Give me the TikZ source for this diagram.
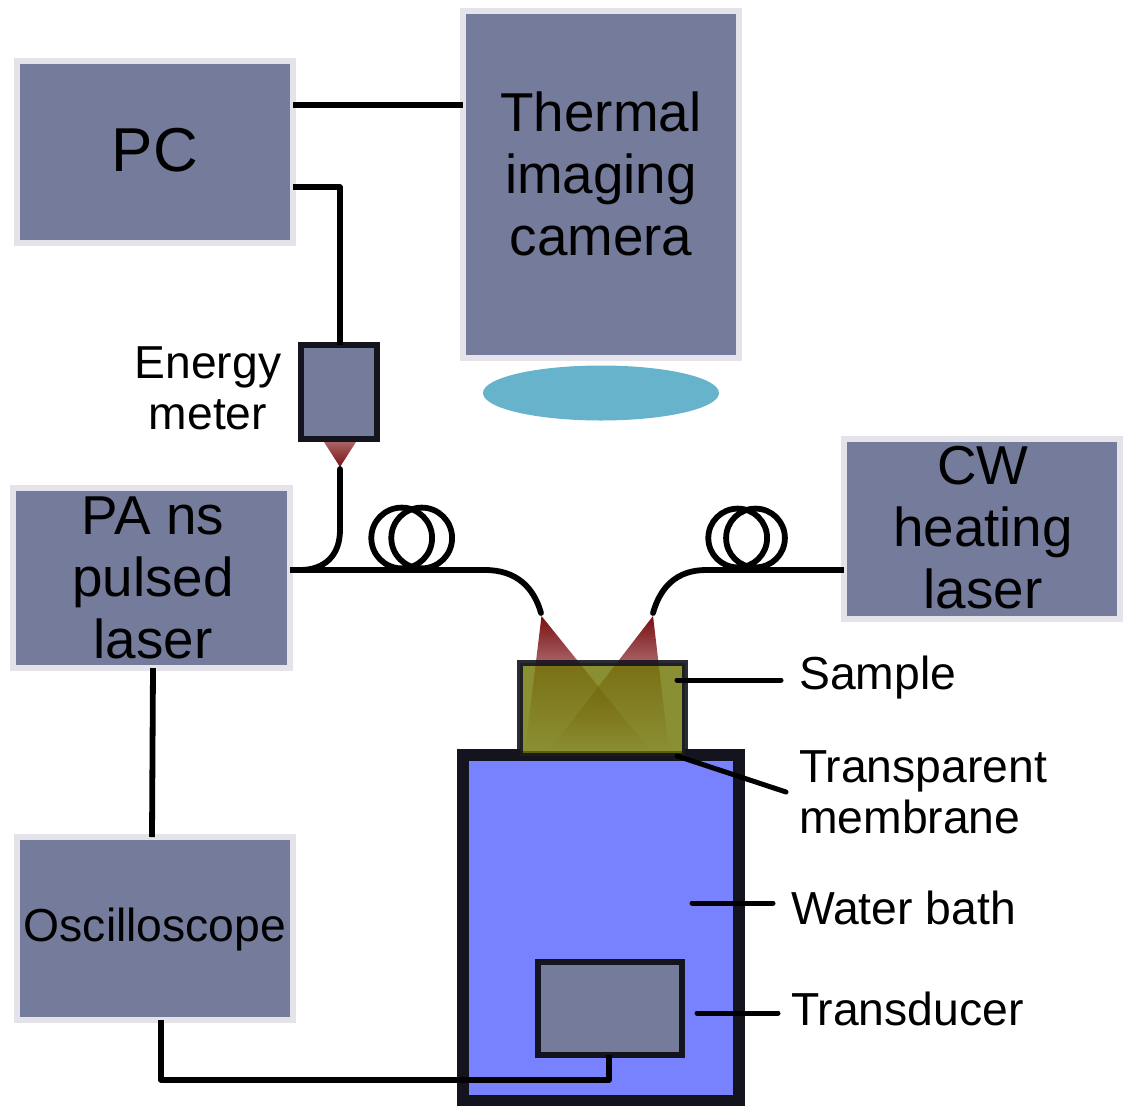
\documentclass[tikz,border=0pt]{standalone}
\usepackage{fontspec}
\setmainfont{Liberation Sans}
\usetikzlibrary{fadings}
\definecolor{boxfill}{HTML}{757B9B}
\definecolor{boxedge}{HTML}{E3E3E9}
\definecolor{darkedge}{HTML}{14141F}
\definecolor{bathblue}{HTML}{7882FF}
\definecolor{lensblue}{HTML}{68B3CC}
\definecolor{beamred}{HTML}{7A0F12}
\definecolor{olive}{RGB}{111,116,2}
\tikzfading[name=beamdown, top color=transparent!0, bottom color=transparent!100]
\tikzfading[name=beamup, bottom color=transparent!0, top color=transparent!35]
\tikzset{
  unit/.style={draw=boxedge, fill=boxfill, line width=6pt, inner sep=0pt, outer sep=0pt},
  darkunit/.style={draw=darkedge, fill=boxfill, line width=6pt, inner sep=0pt, outer sep=0pt},
  wire/.style={draw=black, line width=5.8pt, line cap=round, line join=round},
  lead/.style={draw=black, line width=5pt, line cap=round},
  bigtxt/.style={align=center, inner sep=0pt, font=\fontsize{54.8}{62}\selectfont},
  midtxt/.style={align=center, inner sep=0pt, font=\fontsize{46.2}{51}\selectfont},
  lefttxt/.style={align=left, anchor=west, inner sep=0pt, font=\fontsize{46.3}{51}\selectfont},
}
\begin{document}
\begin{tikzpicture}[x=1pt,y=-1pt]
\useasboundingbox (0,0) rectangle (1128,1106);
% equipment boxes
\node[unit, minimum width=276pt, minimum height=182pt] (pc) at (155,152) {};
\node[unit, minimum width=276pt, minimum height=347pt] (camera) at (601,184.5) {};
\node[unit, minimum width=277pt, minimum height=180pt] (pa) at (151.5,578) {};
\node[unit, minimum width=276pt, minimum height=180pt] (cw) at (982,529) {};
\node[unit, minimum width=276pt, minimum height=183pt] (osc) at (155,928.5) {};
\node[darkunit, minimum width=76pt, minimum height=94pt] (energy) at (339,392) {};
\node[fill=lensblue, draw=none, shape=circle, inner sep=0pt, minimum size=2pt, xscale=118, yscale=27.5] (lens) at (601,393) {};
% water bath
\node[draw=darkedge, fill=bathblue, line width=12pt, inner sep=0pt, outer sep=0pt, minimum width=276pt, minimum height=346pt] (bath) at (601,928) {};
\node[darkunit, minimum width=144pt, minimum height=93pt] (transducer) at (610,1008.5) {};
% beams and sample
\fill[white] (520,664) rectangle (685,751);
\fill[beamred, path fading=beamdown] (541.5,616) -- (525,752) -- (651,752) -- cycle;
\fill[beamred, path fading=beamdown] (653,616) -- (669,752) -- (548,752) -- cycle;
\fill[beamred, path fading=beamup] (324,442) -- (356,442) -- (340,467) -- cycle;
\node[draw=darkedge, draw opacity=.9, fill=olive, fill opacity=.8, text opacity=1, line width=6pt, inner sep=0pt, outer sep=0pt, minimum width=165pt, minimum height=93pt] (sample) at (602.5,709.5) {};
% named free ends
\coordinate (energyfibretop) at (340,469);
\coordinate (energyfibrebend) at (340,530);
\coordinate (energyfibrejoin) at (300,570);
\coordinate (leftfibrestraight) at (485,570);
\coordinate (leftfibreend) at (541,613);
\coordinate (rightfibrestraight) at (706,570);
\coordinate (rightfibreend) at (653,613);
\coordinate (scopebendA) at (161,1080);
\coordinate (scopebendB) at (609,1080);
\coordinate (coilLa) at (401.7,538);
\coordinate (coilLb) at (421.7,538);
\coordinate (coilRa) at (737.7,538);
\coordinate (coilRb) at (755.5,538);
% connectors
\draw[wire, line cap=butt] ([yshift=47pt]pc.east) -- ([yshift=79.5pt]camera.west);
\draw[wire, line cap=butt] ([yshift=-35pt]pc.east) -| ([xshift=1pt]energy.north);
\draw[wire, line cap=butt] ([xshift=1.5pt]pa.south) -- ([xshift=-3pt]osc.north);
\draw[wire, line cap=butt] ([xshift=6pt]osc.south) -- (scopebendA) -- (scopebendB) -- ([xshift=-1pt]transducer.south);
\draw[wire] (energyfibretop) -- (energyfibrebend) .. controls (340,556) and (324,570) .. (energyfibrejoin);
\draw[wire, line cap=butt] (pa.east |- leftfibrestraight) -- (leftfibrestraight);
\draw[wire] (leftfibrestraight) .. controls (517,570) and (534,588) .. (leftfibreend);
\draw[wire, line cap=butt] (cw.west |- rightfibrestraight) -- (rightfibrestraight);
\draw[wire] (rightfibrestraight) .. controls (676,570) and (660,588) .. (rightfibreend);
\draw[wire] (coilLa) circle[radius=30.4pt];
\draw[wire] (coilLb) circle[radius=30.4pt];
\draw[wire] (coilRa) circle[radius=29.4pt];
\draw[wire] (coilRb) circle[radius=29.4pt];
% leaders
\coordinate (sampleleadin) at (677,680);
\coordinate (sampleleadout) at (781,680);
\coordinate (memleadin) at (677,756);
\coordinate (memleadout) at (786,792);
\coordinate (bathleadin) at (692,903);
\coordinate (bathleadout) at (773,903);
\coordinate (transleadin) at (697,1013);
\coordinate (transleadout) at (778,1013);
\draw[lead] (sampleleadin) -- (sampleleadout);
\draw[lead] (memleadin) -- (memleadout);
\draw[lead] (bathleadin) -- (bathleadout);
\draw[lead] (transleadin) -- (transleadout);
% texts
\node[inner sep=0pt, font=\fontsize{62}{66}\selectfont] (pclabel) at (155,150) {PC};
\node[bigtxt] (cameralabel) at (601,174) {Thermal\\imaging\\camera};
\node[midtxt] (energylabel) at (208,388.5) {Energy\\meter};
\node[bigtxt] (palabel) at (153,578) {PA ns\\pulsed\\laser};
\node[bigtxt] (cwlabel) at (983,528) {CW\\heating\\laser};
\node[inner sep=0pt, font=\fontsize{46.3}{50}\selectfont] (osclabel) at (155,930) {Oscilloscope};
\node[lefttxt] (samplelabel) at (799,678) {Sample};
\node[lefttxt] (memlabel) at (799,792) {Transparent\\membrane};
\node[lefttxt] (bathlabel) at (791,908) {Water bath};
\node[lefttxt] (translabel) at (791,1009) {Transducer};
\end{tikzpicture}
\end{document}
